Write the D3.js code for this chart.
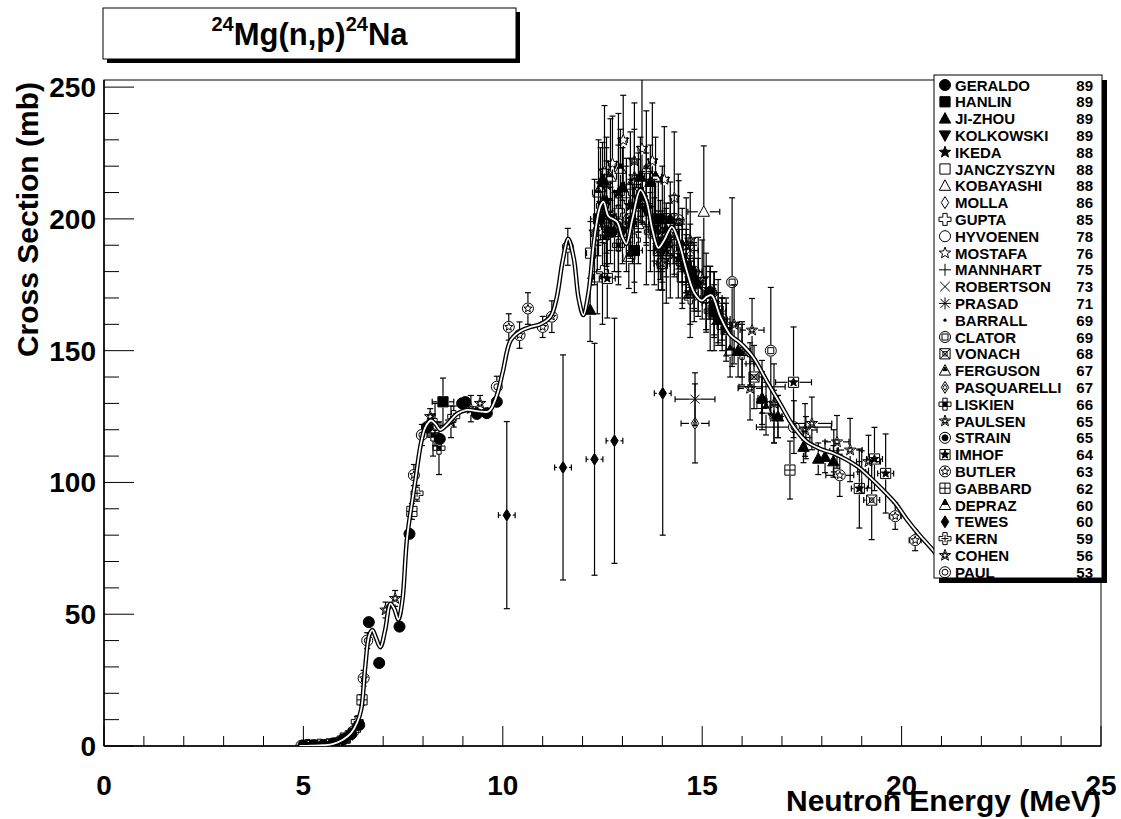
<!DOCTYPE html>
<html><head><meta charset="utf-8">
<script src="https://cdn.jsdelivr.net/npm/d3@7"></script>
<style>
body{margin:0;background:#fff}
text{font-family:'Liberation Sans',Arial,Helvetica,sans-serif;font-weight:bold;fill:#000}
</style>
</head><body>
<svg id="c" width="1121" height="819"></svg>
<script>
// ---------- data ----------
const xTicks = [0, 5, 10, 15, 20, 25];
const yTicks = [0, 50, 100, 150, 200, 250];
const xDomain = [0, 25];
const yDomain = [0, 252.7];

// evaluated curve (energy MeV, cross section mb)
const curveE = [4.9,5.2,5.5,5.75,6.0,6.2,6.35,6.45,6.55,6.65,6.73,6.82,6.93,7.05,7.18,7.28,7.38,7.48,7.6,7.8,7.95,8.06,8.2,8.32,8.43,8.6,8.85,9.1,9.4,9.65,9.85,10.0,10.2,10.45,10.7,10.94,11.2,11.35,11.5,11.64,11.78,11.9,12.02,12.15,12.3,12.45,12.53,12.65,12.86,13.0,13.1,13.25,13.45,13.6,13.75,13.9,14.05,14.24,14.4,14.6,14.8,14.99,15.12,15.24,15.45,15.7,15.95,16.28,16.6,16.95,17.3,17.62,18.0,18.3,18.9,19.2,19.54,19.85,20.13,20.45,20.78,21.0];
const curveS = [0,0.1,0.3,0.8,2.5,5,9,14,30,42,44,41,37.5,44,54,52,48,55,79,100,115,121,123.5,122,120,122,126,127.5,127,127,133,142,154,157.5,159,160,163,170,184,192.5,185,170,163.5,172,193,205,206.5,201,199,193,190.5,200,211,207,196,189,192,197,192,181,172,169,170.5,171,163,156,153,147.5,139,130,121,115.5,112.5,111,106,102,97,92,86,80,74.4,70];

// experiments: [E, sigma, dE, dSigma]
const GERALDO = [[5.0,0.2,0,0],[5.25,0.3,0,0],[5.5,0.4,0,0],[5.75,1.0,0,0],[6.0,2.5,0,0],[6.2,4.5,0,0],[6.4,8,0,0],[6.64,47,0,0],[6.9,31.5,0,0],[7.41,45.3,0,0],[7.66,80.5,0,0],[8.1,121,0,0],[8.42,116.5,0,0],[8.98,130,0,0],[9.06,130.5,0,0],[9.35,126,0,0],[9.6,126.3,0,0],[9.85,130.6,0,0]];
const HANLIN = [[8.5,130.6,0.27,9],[12.4,200,0.2,14],[12.7,195,0.2,12],[13.3,188,0.2,12],[13.9,200,0.2,14],[14.6,182,0.2,12],[15.3,165,0.2,10]];
const JIZHOU = [[12.19,165.5,0,12],[12.5,215,0.1,14],[13.0,212,0.1,15],[13.45,216,0.1,15],[13.7,214,0.1,14],[14.2,200,0.1,14],[14.8,178,0.1,12],[15.4,162,0.1,10],[15.9,150,0.1,10],[16.5,132,0.1,10],[16.9,125,0.1,8],[17.54,113.5,0,6],[17.91,109,0,6],[18.08,109.7,0,6],[18.29,108,0,6]];
const KOLKOWSKI = [[12.5,205,0.15,14],[12.7,200,0.15,12],[13.0,195,0.15,12],[13.6,203,0.15,12],[13.8,196,0.15,12],[14.1,190,0.15,12],[14.7,180,0.15,10],[15.2,172,0.15,10]];
const IKEDA = [[12.6,207,0.1,20],[12.9,210,0.1,30],[13.2,205,0.1,18],[13.5,208,0.1,10],[13.9,190,0.1,10],[14.1,196,0.1,10],[14.5,186,0.1,10],[14.9,175,0.1,10],[15.3,168,0.1,12],[15.6,158,0.1,12]];
const JANCZYSZYN = [[12.2,187,0.1,12],[12.37,178,0.1,14],[14.0,183,0.1,10],[14.5,178,0.1,12],[15.5,160,0.1,10]];
const KOBAYASHI = [[13.4,198,0.2,15],[14.6,184,0.2,12],[15.04,202.7,0.4,25]];
const MOLLA = [[13.1,200,0.2,20],[14.2,188,0.2,18],[14.8,176,0.2,15]];
const GUPTA = [[8.3,122,0,8],[12.5,180,0,20],[12.9,203,0,25],[13.3,192,0,20],[13.6,200,0,25],[14.1,186,0,18],[14.7,170,0,15],[15.2,165,0,15]];
const HYVOENEN = [[13.7,203,0,15],[14.41,199.5,0,15],[14.9,178,0,15]];
const MOSTAFA = [[12.55,218,0.1,25],[12.75,221,0.1,18],[13.02,229.9,0.1,17],[13.49,226.7,0.1,28],[13.75,222,0.1,22],[14.05,215,0.1,20],[14.3,208,0.1,25],[14.6,190,0.1,18]];
const MANNHART = [[14.0,195,0.1,8],[14.7,178,0.1,8],[15.5,160,0.1,8],[16.2,145,0.1,8],[16.5,136.3,0.58,10],[16.9,125,0.1,8],[17.6,117,0.1,8],[18.3,112,0.1,8],[19.0,104,0.1,8]];
const ROBERTSON = [[14.7,188,0.2,10],[15.3,170,0.2,10],[16.0,150,0.2,10]];
const PRASAD = [[14.82,131.6,0.5,10]];
const BARRALL = [[14.6,180,0.1,10],[15.1,168,0.1,10]];
const CLATOR = [[13.8,195,0,20],[15.75,176,0,32],[16.72,150,0,24]];
const VONACH = [[12.6,198,0.1,15],[13.4,210,0.1,15],[13.9,188,0.1,15],[14.3,194,0.1,15],[15.1,172,0.1,15],[16.3,140,0.1,12],[19.25,93.3,0.2,15]];
const FERGUSON = [[12.4,210,0.15,20],[12.7,216,0.15,22],[13.2,213,0.15,20],[13.6,219,0.15,22],[14.0,200,0.15,20]];
const PASQUARELLI = [[14.82,122.4,0.35,15]];
const LISKIEN = [[8.25,118,0.1,8],[8.4,113,0,10],[12.55,193,0.1,15],[12.9,190,0.1,15],[13.25,198,0.1,15],[13.6,205,0.1,15],[13.95,192,0.1,15],[14.5,183,0.1,15],[15.3,165,0.1,15],[16.0,149,0.1,12]];
const PAULSEN = [[8.7,123,0,6],[9.2,128,0,5],[12.3,195,0.1,20],[12.6,213,0.1,18],[13.3,216,0.1,18],[14.4,199,0.1,18],[14.7,192,0.1,18],[15.0,177,0.1,15],[15.8,160,0.1,15],[16.2,135.7,0.3,12],[16.25,157.8,0.3,12],[16.8,130,0.1,15],[17.58,119.9,0.3,10],[17.75,122.4,0.5,10],[18.38,115.4,0.3,10],[18.71,112.3,0.3,12],[19.17,107.9,0.3,10]];
const STRAIN = [[12.9,198,0.2,10],[13.4,205,0.2,10],[14.1,193,0.2,8],[14.8,180,0.2,8],[15.5,162,0.2,8]];
const IMHOF = [[12.62,177.4,0.2,15],[13.2,200,0.2,15],[14.0,188,0.2,12],[14.4,185,0.2,15],[15.4,165,0.2,12],[17.29,138,0.45,21],[18.94,97.7,0.2,15],[19.32,108.9,0.2,12],[19.6,103.4,0.2,15]];
const BUTLER = [[5.15,0.2,0,0],[5.85,1.2,0,0],[6.25,5.5,0,0],[6.51,25.7,0,3],[7.77,102.8,0,4],[10.15,159,0,5],[10.42,155.9,0,5],[10.63,166,0,6],[11.0,159,0,4],[11.23,162.9,0,6],[11.63,189.4,0,7],[13.99,183,0.2,10],[18.45,102.7,0.35,8],[19.84,87.2,0.15,5],[20.34,78.1,0.15,4]];
const GABBARD = [[5.2,0.2,0,0],[5.7,0.8,0,0],[6.05,3,0,0],[6.47,17.5,0,2],[7.72,89,0,3],[15.6,158,0,10],[16.5,130,0,10],[17.2,104.7,0,11]];
const DEPRAZ = [[12.45,212,0.15,15],[12.8,195,0.15,15],[12.95,219,0.15,15],[13.16,185.6,0.15,12],[13.83,216,0.15,15],[14.5,190,0.15,14],[15.1,170,0.15,12],[15.7,150,0.1,10],[16.6,128,0.1,10]];
const TEWES = [[10.1,87.6,0.21,35.5],[11.51,105.7,0.21,42.7],[12.3,108.8,0.21,44],[12.8,115.8,0.21,46.5],[14.01,133.8,0.21,53.8]];
const KERN = [[5.1,0.2,0,0],[5.4,0.3,0,0],[5.9,1.5,0,0],[6.1,3.5,0,0],[6.28,6,0,0],[6.35,9.2,0,2],[7.85,95.9,0,3],[8.77,125,0,4],[13.1,208,0.1,15],[13.7,195,0.1,15],[14.3,190,0.1,12],[15.2,172,0.1,10]];
const COHEN = [[5.45,0.4,0,0],[6.15,4,0,0],[7.06,51.6,0,3],[7.3,56,0,3],[8.18,125,0,3],[9.43,130,0,3],[12.6,202,0.1,20],[13.3,222,0.1,22],[14.7,172,0.1,12],[16.8,125,0.1,10]];
const PAUL = [[4.95,0.1,0,0],[5.3,0.2,0,0],[5.6,0.5,0,0],[6.6,40,0,3],[7.97,118,0,4],[9.85,136.3,0,4],[14.8,175,0.3,10],[17.3,121,0.94,10]];

const seriesNames = ['GERALDO','HANLIN','JI-ZHOU','KOLKOWSKI','IKEDA','JANCZYSZYN','KOBAYASHI','MOLLA','GUPTA','HYVOENEN','MOSTAFA','MANNHART','ROBERTSON','PRASAD','BARRALL','CLATOR','VONACH','FERGUSON','PASQUARELLI','LISKIEN','PAULSEN','STRAIN','IMHOF','BUTLER','GABBARD','DEPRAZ','TEWES','KERN','COHEN','PAUL'];
const seriesYears = ['89','89','89','89','88','88','88','86','85','78','76','75','73','71','69','69','68','67','67','66','65','65','64','63','62','60','60','59','56','53'];
const seriesMarkers = ['circleF','squareF','triUpF','triDownF','starF','squareO','triO','diamondO','crossO','circleO','starO','plus','xmark','asterisk','dot','circSq','sqX','triTri','diaDia','crossF','starStar','circDot','sqStar','circStar','sqPlus','triTriF','diaF','crossPlus','starStar2','circCirc'];
const seriesData = [GERALDO,HANLIN,JIZHOU,KOLKOWSKI,IKEDA,JANCZYSZYN,KOBAYASHI,MOLLA,GUPTA,HYVOENEN,MOSTAFA,MANNHART,ROBERTSON,PRASAD,BARRALL,CLATOR,VONACH,FERGUSON,PASQUARELLI,LISKIEN,PAULSEN,STRAIN,IMHOF,BUTLER,GABBARD,DEPRAZ,TEWES,KERN,COHEN,PAUL];

// ---------- layout ----------
const W = 1121, H = 819;
const F = {l: 104, r: 1101, t: 80, b: 746};
const svg = d3.select('#c');
svg.append('rect').attr('width', W).attr('height', H).attr('fill', '#fff');

const x = d3.scaleLinear().domain(xDomain).range([F.l, F.r]);
const y = d3.scaleLinear().domain(yDomain).range([F.b, F.t]);

// ---------- marker shapes ----------
function starPath(R, r) {
  let p = '';
  for (let i = 0; i < 10; i++) {
    const a = -Math.PI / 2 + i * Math.PI / 5;
    const rr = i % 2 === 0 ? R : r;
    p += (i === 0 ? 'M' : 'L') + (rr * Math.cos(a)).toFixed(2) + ',' + (rr * Math.sin(a)).toFixed(2);
  }
  return p + 'Z';
}
const sq = s => `M${-s},${-s}h${2*s}v${2*s}h${-2*s}Z`;
const triU = s => `M0,${-s}L${s*0.95},${s*0.75}L${-s*0.95},${s*0.75}Z`;
const triD = s => `M0,${s}L${s*0.95},${-s*0.75}L${-s*0.95},${-s*0.75}Z`;
const dia = s => `M0,${-s}L${s*0.62},0L0,${s}L${-s*0.62},0Z`;
const crossP = s => { const a = s*0.36; return `M${-a},${-s}L${a},${-s}L${a},${-a}L${s},${-a}L${s},${a}L${a},${a}L${a},${s}L${-a},${s}L${-a},${a}L${-s},${a}L${-s},${-a}L${-a},${-a}Z`; };

function drawMarker(g, type, s) {
  const P = (d, fill) => g.append('path').attr('d', d).attr('fill', fill ? '#000' : 'none').attr('stroke', '#000').attr('stroke-width', 1);
  const C = (r, fill) => g.append('circle').attr('r', r).attr('fill', fill ? '#000' : 'none').attr('stroke', '#000').attr('stroke-width', 1);
  switch (type) {
    case 'circleF': C(s*0.92, true); break;
    case 'squareF': P(sq(s*0.85), true); break;
    case 'triUpF': P(triU(s), true); break;
    case 'triDownF': P(triD(s), true); break;
    case 'starF': P(starPath(s, s*0.42), true); break;
    case 'squareO': P(sq(s*0.85)); break;
    case 'triO': P(triU(s)); break;
    case 'diamondO': P(dia(s)); break;
    case 'crossO': P(crossP(s)); break;
    case 'circleO': C(s*0.92); break;
    case 'starO': P(starPath(s, s*0.42)); break;
    case 'plus': P(`M${-s},0H${s}M0,${-s}V${s}`); break;
    case 'xmark': P(`M${-s*0.8},${-s*0.8}L${s*0.8},${s*0.8}M${-s*0.8},${s*0.8}L${s*0.8},${-s*0.8}`); break;
    case 'asterisk': P(`M${-s},0H${s}M0,${-s}V${s}M${-s*0.75},${-s*0.75}L${s*0.75},${s*0.75}M${-s*0.75},${s*0.75}L${s*0.75},${-s*0.75}`); break;
    case 'dot': g.append('circle').attr('r', 1.6).attr('fill', '#000'); break;
    case 'circSq': C(s*0.92); P(sq(s*0.5)); break;
    case 'sqX': P(sq(s*0.85)); P(`M${-s*0.85},${-s*0.85}L${s*0.85},${s*0.85}M${-s*0.85},${s*0.85}L${s*0.85},${-s*0.85}`); P(sq(s*0.35)); break;
    case 'triTri': P(triU(s)); P(`M0,${-s*0.6}L${s*0.35},${0}L${-s*0.35},${0}Z`, true); break;
    case 'diaDia': P(dia(s)); P(dia(s*0.5)); break;
    case 'crossF': P(crossP(s)); P(sq(s*0.36), true); break;
    case 'starStar': P(starPath(s, s*0.42)); P(starPath(s*0.5, s*0.22)); break;
    case 'circDot': C(s*0.92); C(s*0.5, true); break;
    case 'sqStar': P(sq(s*0.85)); P(starPath(s*0.75, s*0.32), true); break;
    case 'circStar': C(s*0.92); P(starPath(s*0.7, s*0.3)); break;
    case 'sqPlus': P(sq(s*0.85)); P(`M${-s*0.85},0H${s*0.85}M0,${-s*0.85}V${s*0.85}`); break;
    case 'triTriF': P(triU(s)); P(`M0,${-s}L${s*0.5},${-s*0.1}L${-s*0.5},${-s*0.1}Z`, true); break;
    case 'diaF': P(dia(s), true); break;
    case 'crossPlus': P(crossP(s)); P(`M${-s*0.6},0H${s*0.6}M0,${-s*0.6}V${s*0.6}`); break;
    case 'starStar2': P(starPath(s, s*0.42)); P(starPath(s*0.55, s*0.24)); break;
    case 'circCirc': C(s*0.92); C(s*0.5); break;
  }
}

// ---------- frame ----------
svg.append('defs').append('clipPath').attr('id', 'clip')
  .append('rect').attr('x', F.l).attr('y', F.t).attr('width', F.r - F.l).attr('height', F.b - F.t);

const axG = svg.append('g').attr('stroke', '#000').attr('stroke-width', 1);
const xMinor = d3.range(xDomain[0], xDomain[1] + 0.001, 1);
xMinor.forEach(v => {
  const major = xTicks.includes(v);
  axG.append('line').attr('x1', x(v)).attr('x2', x(v)).attr('y1', F.b).attr('y2', F.b - (major ? 20 : 10));
});
const yMinor = d3.range(0, 251, 10);
yMinor.forEach(v => {
  const major = yTicks.includes(v);
  axG.append('line').attr('y1', y(v)).attr('y2', y(v)).attr('x1', F.l).attr('x2', F.l + (major ? 30 : 15));
});

svg.append('rect').attr('x', F.l).attr('y', F.t).attr('width', F.r - F.l).attr('height', F.b - F.t)
  .attr('fill', 'none').attr('stroke', '#000').attr('stroke-width', 1);
svg.append('line').attr('x1', F.l).attr('x2', F.r).attr('y1', F.b).attr('y2', F.b).attr('stroke', '#000').attr('stroke-width', 1.5);
svg.append('line').attr('x1', F.l).attr('x2', F.l).attr('y1', F.t).attr('y2', F.b).attr('stroke', '#000').attr('stroke-width', 1.5);

// tick labels
svg.append('g').selectAll('text').data(xTicks).join('text')
  .attr('x', d => x(d)).attr('y', 795).attr('text-anchor', 'middle').attr('font-size', 28).text(d => d);
svg.append('g').selectAll('text').data(yTicks).join('text')
  .attr('x', 96).attr('y', d => y(d) + 10).attr('text-anchor', 'end').attr('font-size', 28).text(d => d);

// axis titles
svg.append('text').attr('x', F.r).attr('y', 811).attr('text-anchor', 'end').attr('font-size', 30).text('Neutron Energy (MeV)');
svg.append('text').attr('transform', `translate(38,${F.t + 2}) rotate(-90)`).attr('text-anchor', 'end').attr('font-size', 30).text('Cross Section (mb)');

// ---------- data points ----------
const plot = svg.append('g').attr('clip-path', 'url(#clip)');
const S = 6, CAP = 3;
seriesData.forEach((data, si) => {
  const g = plot.append('g');
  data.forEach(d => {
    const px = x(d[0]), py = y(d[1]);
    const gap = seriesMarkers[si] === 'dot' ? 2 : S;
    const eb = g.append('g').attr('stroke', '#000').attr('stroke-width', 1.2);
    if (d[3] > 0) {
      const y1 = y(d[1] + d[3]), y2 = y(d[1] - d[3]);
      if (y1 < py - gap) eb.append('line').attr('x1', px).attr('x2', px).attr('y1', y1).attr('y2', py - gap);
      if (y2 > py + gap) eb.append('line').attr('x1', px).attr('x2', px).attr('y1', py + gap).attr('y2', y2);
      eb.append('line').attr('x1', px - CAP).attr('x2', px + CAP).attr('y1', y1).attr('y2', y1);
      eb.append('line').attr('x1', px - CAP).attr('x2', px + CAP).attr('y1', y2).attr('y2', y2);
    }
    if (d[2] > 0) {
      const x1 = x(d[0] - d[2]), x2 = x(d[0] + d[2]);
      if (x1 < px - gap) eb.append('line').attr('y1', py).attr('y2', py).attr('x1', x1).attr('x2', px - gap);
      if (x2 > px + gap) eb.append('line').attr('y1', py).attr('y2', py).attr('x1', px + gap).attr('x2', x2);
      eb.append('line').attr('y1', py - CAP).attr('y2', py + CAP).attr('x1', x1).attr('x2', x1);
      eb.append('line').attr('y1', py - CAP).attr('y2', py + CAP).attr('x1', x2).attr('x2', x2);
    }
    drawMarker(g.append('g').attr('transform', `translate(${px},${py})`), seriesMarkers[si], S);
  });
});

// ---------- evaluated curve ----------
const curvePts = curveE.map((e, i) => [e, curveS[i]]);
const line = d3.line().x(d => x(d[0])).y(d => y(d[1])).curve(d3.curveCatmullRom.alpha(0.5));
plot.append('path').attr('d', line(curvePts)).attr('fill', 'none').attr('stroke', '#000').attr('stroke-width', 4.5);
plot.append('path').attr('d', line(curvePts)).attr('fill', 'none').attr('stroke', '#fff').attr('stroke-width', 1.8);

// ---------- title box ----------
const TB = {x: 103, y: 8, w: 413, h: 51};
svg.append('rect').attr('x', TB.x + 4).attr('y', TB.y + 4).attr('width', TB.w).attr('height', TB.h).attr('fill', '#000');
svg.append('rect').attr('x', TB.x).attr('y', TB.y).attr('width', TB.w).attr('height', TB.h).attr('fill', '#fff').attr('stroke', '#000').attr('stroke-width', 1);
const tt = svg.append('text').attr('x', TB.x + TB.w / 2).attr('y', 45).attr('text-anchor', 'middle').attr('font-size', 31);
tt.append('tspan').attr('font-size', 20).attr('dy', -14).text('24');
tt.append('tspan').attr('dy', 14).text('Mg(n,p)');
tt.append('tspan').attr('font-size', 20).attr('dy', -14).text('24');
tt.append('tspan').attr('dy', 14).text('Na');

// ---------- legend ----------
const LB = {x: 934, y: 75, w: 168, h: 503};
svg.append('rect').attr('x', LB.x + 5).attr('y', LB.y + 5).attr('width', LB.w).attr('height', LB.h).attr('fill', '#000');
svg.append('rect').attr('x', LB.x).attr('y', LB.y).attr('width', LB.w).attr('height', LB.h).attr('fill', '#fff').attr('stroke', '#000').attr('stroke-width', 1);
const rowH = 16.8;
seriesNames.forEach((n, i) => {
  const cy = 85 + i * rowH;
  drawMarker(svg.append('g').attr('transform', `translate(945,${cy})`), seriesMarkers[i], 6);
  svg.append('text').attr('x', 955).attr('y', cy + 5.5).attr('font-size', 15).text(n);
  svg.append('text').attr('x', 1093).attr('y', cy + 5.5).attr('text-anchor', 'end').attr('font-size', 15).text(seriesYears[i]);
});
</script>
</body></html>
